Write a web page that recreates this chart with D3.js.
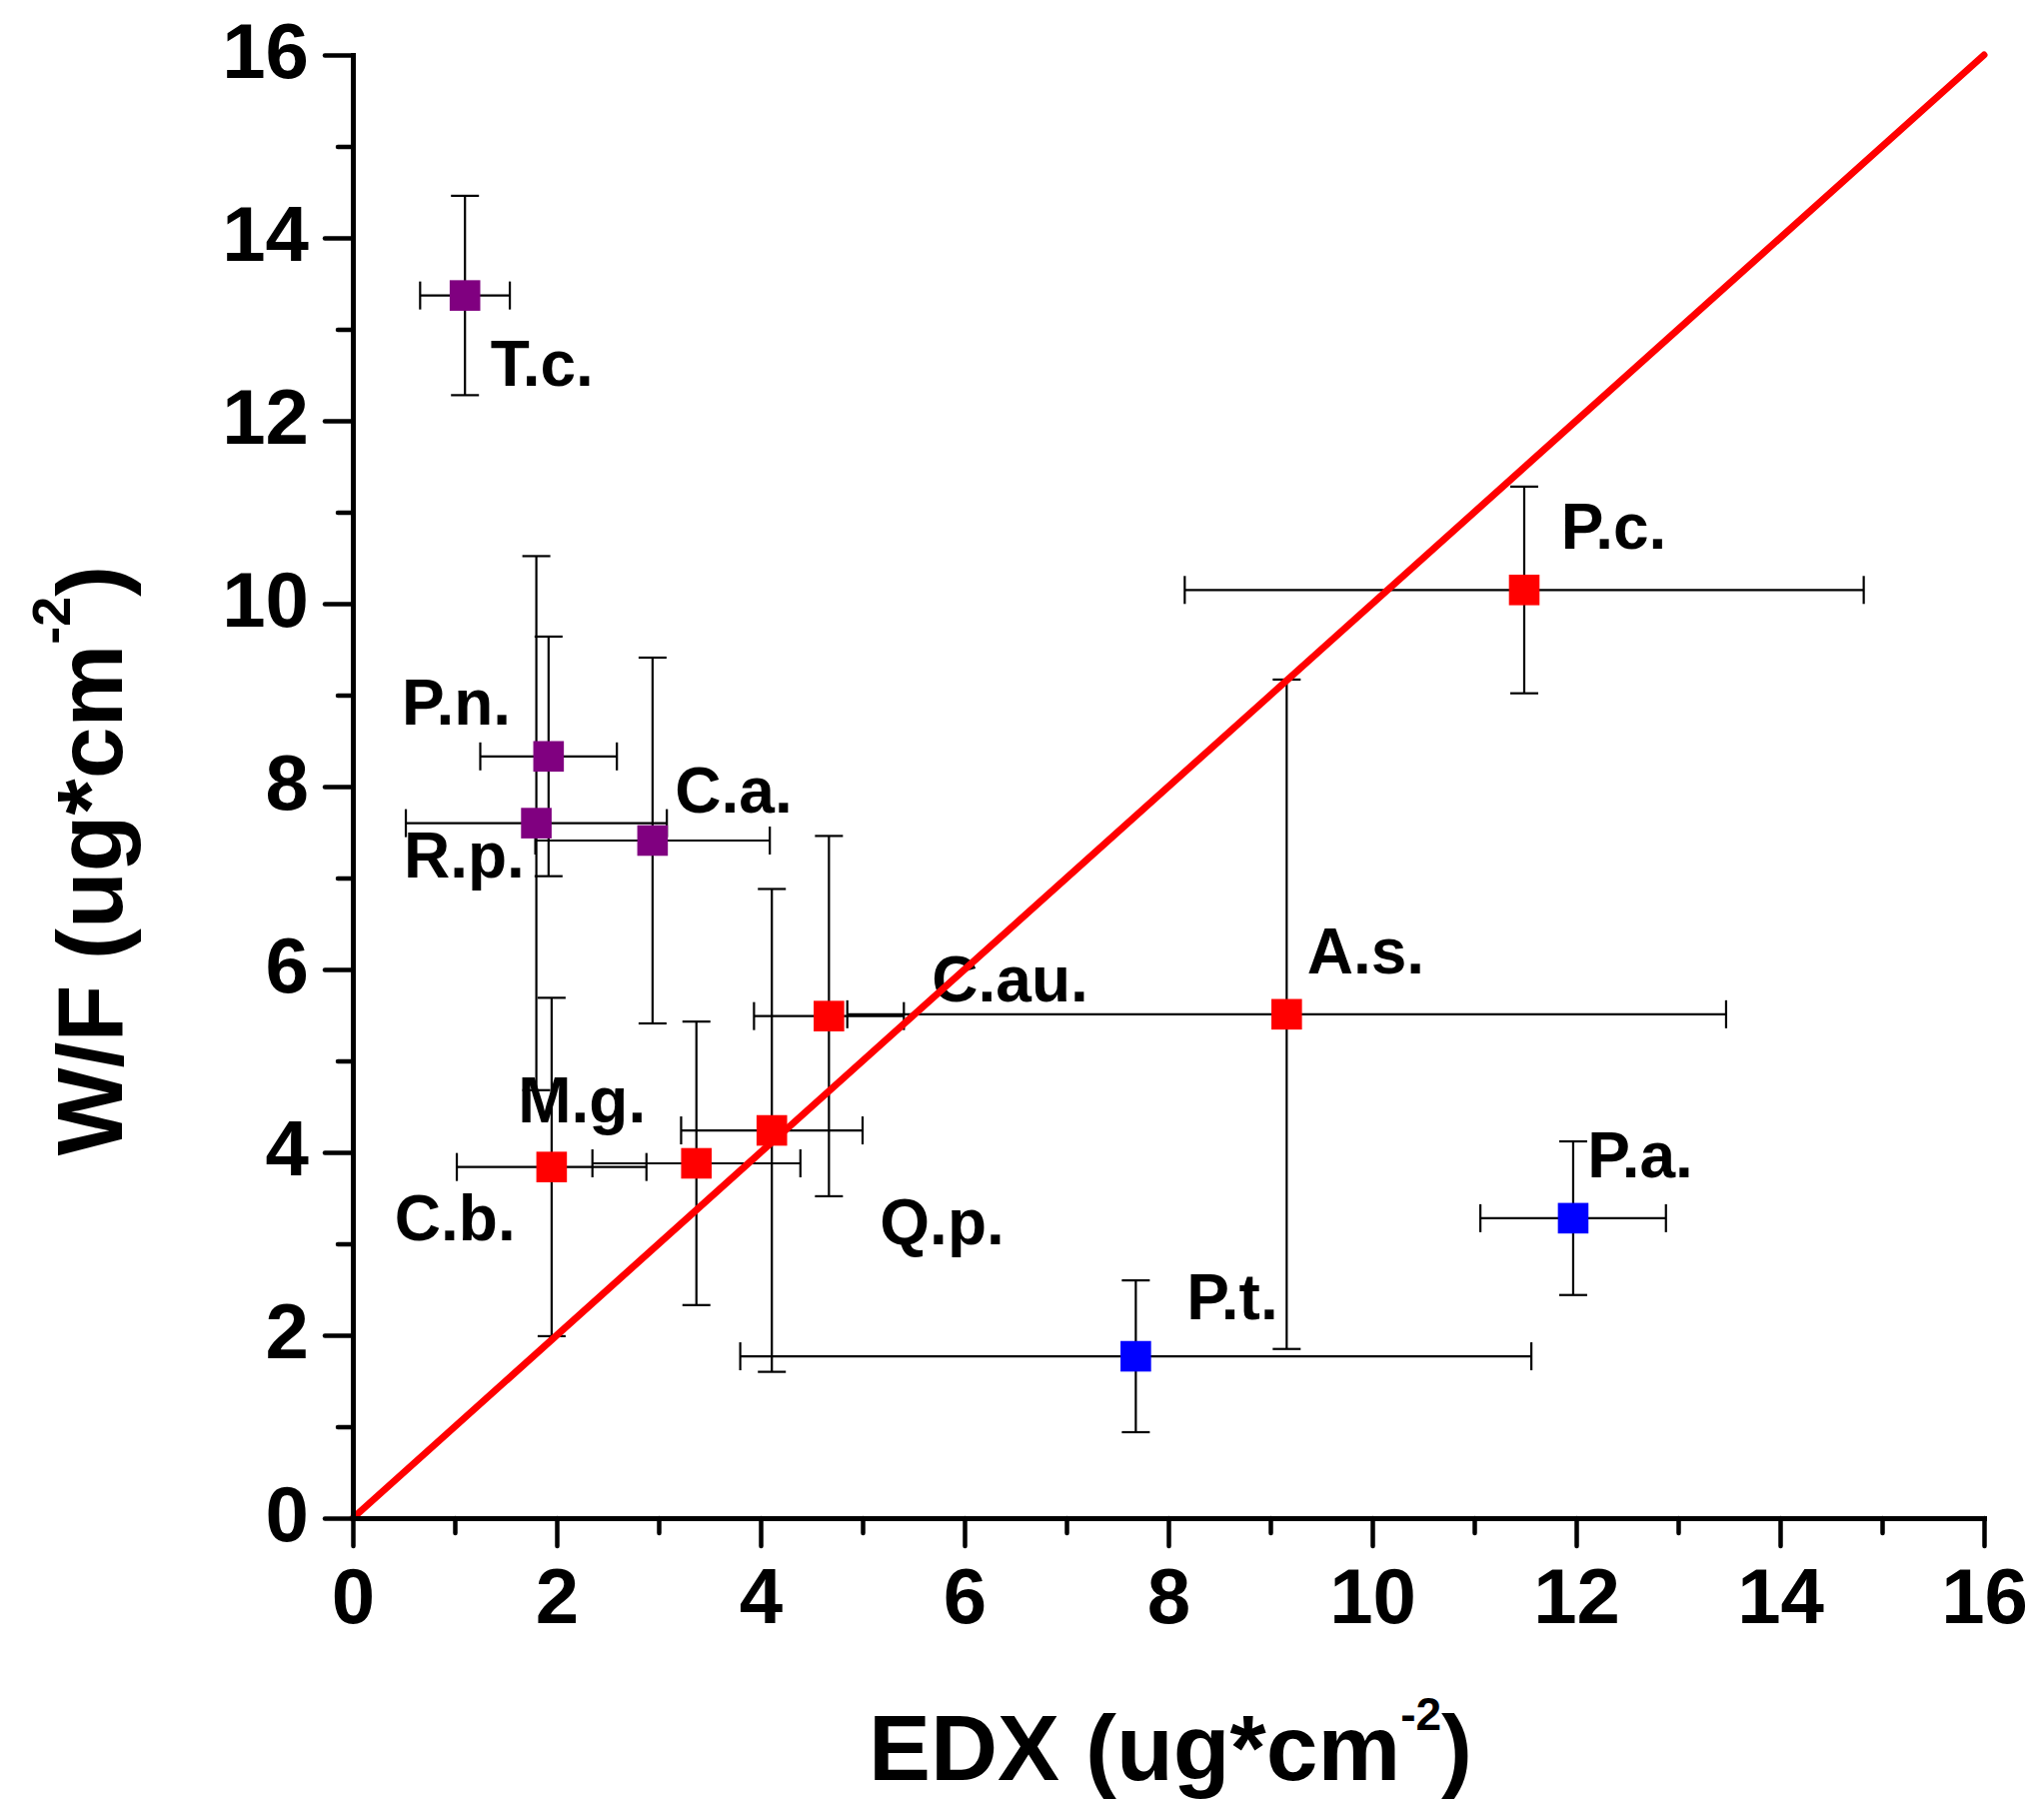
<!DOCTYPE html>
<html>
<head>
<meta charset="utf-8">
<script src="https://cdn.jsdelivr.net/npm/d3@7"></script>
<style>
  body { margin: 0; background: #fff; }
  text { font-family: "Liberation Sans", Arial, sans-serif; font-weight: bold; fill: #000; }
</style>
</head>
<body>
<div id="chart"></div>
<script>
(function() {
"use strict";

// species names, one per point
var names  = ["T.c.", "P.n.", "R.p.", "C.a.", "C.b.", "M.g.", "Q.p.", "C.au.", "A.s.", "P.c.", "P.t.", "P.a."];
// EDX values (x) and W/F values (y), ug*cm-2
var edx    = [1.10, 1.92, 1.80, 2.94, 1.95, 3.37, 4.11, 4.67, 9.16, 11.49, 7.68, 11.97];
var wf     = [13.37, 8.33, 7.60, 7.41, 3.84, 3.88, 4.24, 5.49, 5.51, 10.15, 1.77, 3.28];
// error bars
var edxErr = [0.44, 0.67, 1.28, 1.15, 0.93, 1.02, 0.89, 0.735, 4.31, 3.33, 3.88, 0.91];
var wfErr  = [1.09, 1.31, 2.92, 2.00, 1.85, 1.55, 2.64, 1.97, 3.66, 1.13, 0.83, 0.84];
// group of each point (decides the marker colour)
var group  = ["a", "a", "a", "a", "b", "b", "b", "b", "b", "b", "c", "c"];
var groupColour = { a: "#800080", b: "#ff0000", c: "#0000ff" };

// where each name label sits (data units, left end of text baseline)
var labelX = [1.35, 0.48, 0.50, 3.16, 0.41, 1.62, 5.17, 5.68, 9.36, 11.85, 8.18, 12.11];
var labelY = [12.38, 8.68, 7.01, 7.72, 3.04, 4.33, 2.99, 5.65, 5.96, 10.60, 2.17, 3.73];

var majorTicks = [0, 2, 4, 6, 8, 10, 12, 14, 16];
var minorTicks = [1, 3, 5, 7, 9, 11, 13, 15];
var oneToOne = [0, 16]; // the y = x line

var width = 2045;
var height = 1800;

var svg = d3.select("#chart")
    .append("svg")
    .attr("width", width)
    .attr("height", height)
    .style("background", "#fff");

var x = d3.scaleLinear().domain([0, 16]).range([353, 1985]);
var y = d3.scaleLinear().domain([0, 16]).range([1519, 55]);

var pts = names.map(function(n, i) {
    return { name: n, x: edx[i], y: wf[i], ex: edxErr[i], ey: wfErr[i], g: group[i], lx: labelX[i], ly: labelY[i] };
});

// error bars first so the markers sit on top
var cap = 14;
var bars = svg.append("g")
    .attr("stroke", "#000")
    .attr("stroke-width", 2.2)
    .attr("fill", "none");

pts.forEach(function(d) {
    var cx = x(d.x), cy = y(d.y);
    var x1 = x(d.x - d.ex), x2 = x(d.x + d.ex);
    var y1 = y(d.y + d.ey), y2 = y(d.y - d.ey);
    bars.append("line").attr("x1", x1).attr("x2", x2).attr("y1", cy).attr("y2", cy);
    bars.append("line").attr("x1", x1).attr("x2", x1).attr("y1", cy - cap).attr("y2", cy + cap);
    bars.append("line").attr("x1", x2).attr("x2", x2).attr("y1", cy - cap).attr("y2", cy + cap);
    bars.append("line").attr("x1", cx).attr("x2", cx).attr("y1", y1).attr("y2", y2);
    bars.append("line").attr("x1", cx - cap).attr("x2", cx + cap).attr("y1", y1).attr("y2", y1);
    bars.append("line").attr("x1", cx - cap).attr("x2", cx + cap).attr("y1", y2).attr("y2", y2);
});

var m = 15.3; // half the marker side
svg.append("g").selectAll("rect")
    .data(pts)
    .enter().append("rect")
    .attr("x", function(d) { return x(d.x) - m; })
    .attr("y", function(d) { return y(d.y) - m; })
    .attr("width", 2 * m)
    .attr("height", 2 * m)
    .attr("fill", function(d) { return groupColour[d.g]; });

// name labels
svg.append("g").selectAll("text")
    .data(pts)
    .enter().append("text")
    .attr("x", function(d) { return x(d.lx); })
    .attr("y", function(d) { return y(d.ly); })
    .attr("font-size", 64)
    .text(function(d) { return d.name; });

// red 1:1 line
svg.append("line")
    .attr("x1", x(oneToOne[0])).attr("y1", y(oneToOne[0]))
    .attr("x2", x(oneToOne[1])).attr("y2", y(oneToOne[1]))
    .attr("stroke", "#ff0000")
    .attr("stroke-width", 7)
    .attr("stroke-linecap", "round");

// axes: minor ticks, then major ticks with labels
function styleAxis(g, w) {
    g.select(".domain").attr("stroke", "#000").attr("stroke-width", 5).attr("stroke-linecap", "square");
    g.selectAll(".tick line").attr("stroke", "#000").attr("stroke-width", w).attr("stroke-linecap", "round");
    g.selectAll(".tick text")
        .attr("font-size", 78)
        .attr("font-family", "'Liberation Sans', Arial, sans-serif")
        .attr("font-weight", "bold")
        .attr("fill", "#000");
}

svg.append("g")
    .attr("transform", "translate(0," + y(0) + ")")
    .call(d3.axisBottom(x).tickValues(minorTicks).tickSize(15).tickSizeOuter(0).tickFormat(""))
    .call(styleAxis, 4.5);

var gx = svg.append("g")
    .attr("transform", "translate(0," + y(0) + ")")
    .call(d3.axisBottom(x).tickValues(majorTicks).tickSize(28).tickSizeOuter(0).tickFormat(d3.format("d")))
    .call(styleAxis, 4.5);
gx.selectAll(".tick text").attr("dy", null).attr("y", 105);

svg.append("g")
    .attr("transform", "translate(" + x(0) + ",0)")
    .call(d3.axisLeft(y).tickValues(minorTicks).tickSize(15).tickSizeOuter(0).tickFormat(""))
    .call(styleAxis, 4.5);

var gy = svg.append("g")
    .attr("transform", "translate(" + x(0) + ",0)")
    .call(d3.axisLeft(y).tickValues(majorTicks).tickSize(28).tickSizeOuter(0).tickFormat(d3.format("d")))
    .call(styleAxis, 4.5);
gy.selectAll(".tick text").attr("dy", null).attr("x", -44).attr("y", 22);

// axis titles
var xt = svg.append("text")
    .attr("x", 1171)
    .attr("y", 1781)
    .attr("text-anchor", "middle")
    .attr("font-size", 93);
xt.append("tspan").text("EDX (ug*cm");
xt.append("tspan").attr("font-size", 46).attr("dy", -50).text("-2");
xt.append("tspan").attr("dy", 50).text(")");

var yt = svg.append("text")
    .attr("transform", "translate(122,861) rotate(-90)")
    .attr("text-anchor", "middle")
    .attr("font-size", 93);
yt.append("tspan").text("W/F (ug*cm");
yt.append("tspan").attr("font-size", 54).attr("dy", -52).text("-2");
yt.append("tspan").attr("dy", 52).text(")");

})();
</script>
</body>
</html>
